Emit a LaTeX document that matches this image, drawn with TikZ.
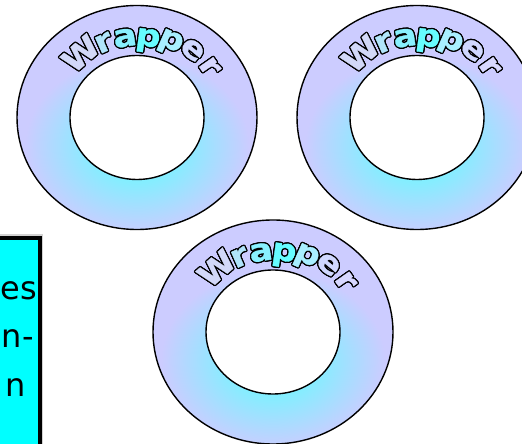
\documentclass[tikz,border=0pt]{standalone}
\usepackage{fontspec}
\setmainfont{DejaVu Sans}
\newfontfamily\wfont{DejaVu Sans Bold}[FakeBold=1.2, FakeStretch=1.12]
\usetikzlibrary{calc}
\definecolor{lav}{HTML}{CCCCFF}
\definecolor{cy}{HTML}{84EEFF}
\definecolor{boxcy}{HTML}{00FFFF}
\definecolor{wa}{HTML}{D2D8F8}
\definecolor{wb}{HTML}{B0E4FA}
\definecolor{wc}{HTML}{88F0FF}
\definecolor{wd}{HTML}{66FCFF}
\definecolor{we}{HTML}{A8EEFF}
\definecolor{wf}{HTML}{D0D8FF}
\definecolor{wg}{HTML}{D8D8FF}
\pgfdeclareradialshading{donutshade}{\pgfpoint{0bp}{0bp}}{color(0bp)=(cy); color(10bp)=(cy); color(25bp)=(lav); color(50bp)=(lav)}
\tikzset{
  wlet/.style={anchor=base, inner sep=0pt, outer sep=0pt, font=\wfont\fontsize{31}{31}\selectfont},
  ring/.style={draw=black, line width=1.4pt},
  boxtext/.style={anchor=base east, inner sep=0pt, font=\fontsize{32}{32}\selectfont}
}
% #1 centre, #2 angle, #3 baseline radius, #4 colour, #5 letter
\newcommand\wl[5]{%
  \foreach \oa in {0,30,...,330}{
    \node[wlet, rotate=#2-90, text=black] at ($(#1)+(#2:#3)+(\oa:1.3)$) {#5};
  }
  \node[wlet, rotate=#2-90, text=#4] at ($(#1)+(#2:#3)$) {#5};
}
\newcommand\donut[1]{%
  \fill[lav] (#1) ellipse [x radius=120, y radius=112];
  \begin{scope}
    \clip (#1) ellipse [x radius=120, y radius=112];
    \shade[shading=donutshade] ($(#1)+(0,-28)$) ellipse [x radius=112, y radius=90];
  \end{scope}
  \draw[ring] (#1) ellipse [x radius=120, y radius=112];
  \filldraw[ring, fill=white] (#1) ellipse [x radius=67, y radius=62];
  \wl{#1}{131.5}{74}{wa}{W}
  \wl{#1}{114}{73}{wb}{r}
  \wl{#1}{98.5}{72}{wc}{a}
  \wl{#1}{82}{72}{wd}{p}
  \wl{#1}{66}{76}{we}{p}
  \wl{#1}{50.5}{79}{wf}{e}
  \wl{#1}{35}{80}{wg}{r}
}
\begin{document}
\begin{tikzpicture}[x=1pt,y=1pt]
\useasboundingbox (0,0) rectangle (522,444);
\clip (0,0) rectangle (522,444);
% text box
\draw[gray!35, line width=1.5pt] (-5,209.2) -- (42.5,209.2) -- (42.5,-5);
\filldraw[fill=boxcy, draw=black, line width=4pt] (-5,-5) rectangle (39.7,206);
\node[boxtext] (t1) at (37,144) {es};
\node[boxtext] (t2) at (34,96) {n-};
\node[boxtext] (t3) at (26,47) {n};
% donuts
\coordinate (d1) at (137,326.5);
\coordinate (d2) at (417,326.5);
\coordinate (d3) at (273,112);
\donut{d1}
\donut{d2}
\donut{d3}
\end{tikzpicture}
\end{document}
